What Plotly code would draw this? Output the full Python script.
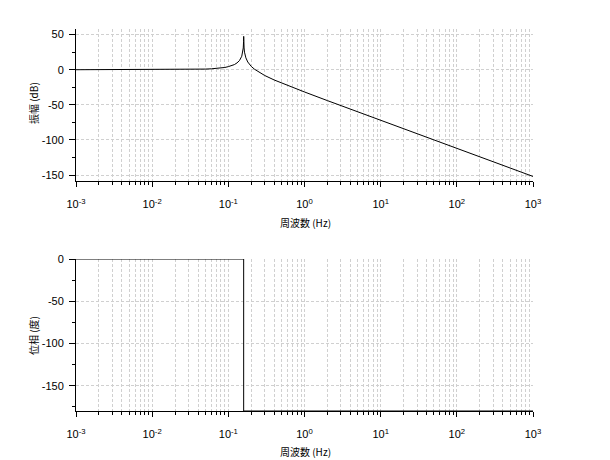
import plotly.graph_objects as go

# Magnitude (dB)
freq_mag = [0.001, 0.01, 0.02, 0.03, 0.04, 0.05, 0.06, 0.07, 0.08, 0.09, 0.1, 0.11, 0.12,
            0.13, 0.14, 0.15, 0.155, 0.157, 0.1585, 0.1591, 0.1597, 0.161, 0.163, 0.166,
            0.17, 0.18, 0.2, 0.22, 0.25, 0.3, 0.4, 0.5, 0.7, 1, 2, 5, 10, 100, 1000]
mag_db = [0, 0, 0.05, 0.3, 0.55, 0.9, 1.3, 1.8, 2.4, 3.2, 4.4, 5.6, 7.3,
          9.7, 13.0, 19.2, 25.5, 31, 40, 47.5, 40, 31, 25, 19,
          16.9, 11.0, 4.7, 0.8, -3.4, -8.2, -14.6, -19, -25.7, -31.7, -44, -60, -72, -112, -152]

# Phase (degrees)
freq_phase = [0.001, 0.159, 0.159, 1000]
phase_deg = [0, 0, -180, -180]

x_tickvals = [1e-3, 1e-2, 1e-1, 1, 10, 100, 1000]
x_ticktext = ["10<sup>-3</sup>", "10<sup>-2</sup>", "10<sup>-1</sup>", "10<sup>0</sup>",
              "10<sup>1</sup>", "10<sup>2</sup>", "10<sup>3</sup>"]
mag_ticks = [50, 0, -50, -100, -150]
mag_ticktext = ["50", "0", "-50", "-100", "-150"]
phase_ticks = [0, -50, -100, -150]
phase_ticktext = ["0", "-50", "-100", "-150"]

W, H = 610, 460
OFF = 8  # page body margin offset


def px(v):
    return (v - OFF) / W


def py(v):
    return 1 - (v - OFF) / H


xl, xr = px(76), px(533)
top_dom = [py(181), py(29)]
bot_dom = [py(411), py(259)]

fig = go.Figure()
fig.add_trace(go.Scatter(x=freq_mag, y=mag_db, mode="lines",
                         line=dict(color="black", width=1), xaxis="x", yaxis="y",
                         showlegend=False))
fig.add_trace(go.Scatter(x=freq_phase, y=phase_deg, mode="lines",
                         line=dict(color="black", width=1), xaxis="x2", yaxis="y2",
                         showlegend=False))

tick_font = dict(family="Liberation Sans, Arial, sans-serif", size=11, color="black")
grid_color = "#d0d0d0"

xcommon = dict(type="log", range=[-3, 3], tickvals=x_tickvals, ticktext=x_ticktext,
               showline=True, linecolor="black", linewidth=1, mirror=False,
               ticks="outside", ticklen=5, tickcolor="black", tickfont=tick_font,
               showgrid=True, gridcolor=grid_color, griddash="3px,2px", gridwidth=1,
               zeroline=False, ticklabelstandoff=8, automargin=False,
               minor=dict(ticks="outside", ticklen=3, tickcolor="black",
                          showgrid=True, gridcolor=grid_color, griddash="3px,2px",
                          dtick="D1"),
               domain=[xl, xr])
ycommon = dict(showline=True, linecolor="black", linewidth=1, ticks="outside",
               ticklen=6, tickcolor="black", tickfont=tick_font,
               showgrid=True, gridcolor=grid_color, griddash="3px,2px", zeroline=False,
               ticklabelstandoff=3, automargin=False,
               minor=dict(ticks="outside", ticklen=3, tickcolor="black", dtick=25,
                          showgrid=False))

fig.update_layout(
    width=W, height=H, margin=dict(l=0, r=0, t=0, b=0, autoexpand=False),
    paper_bgcolor="white", plot_bgcolor="white",
    xaxis=dict(**xcommon, anchor="y"),
    yaxis=dict(**ycommon, range=[-158.5, 58], tickvals=mag_ticks, ticktext=mag_ticktext,
               domain=top_dom, anchor="x"),
    xaxis2=dict(**xcommon, anchor="y2"),
    yaxis2=dict(**ycommon, range=[-180, 0], tickvals=phase_ticks, ticktext=phase_ticktext,
                domain=bot_dom, anchor="x2"),
)

title_font = dict(family="Noto Sans CJK JP, Liberation Sans, sans-serif", size=10,
                  color="black")
ann = dict(xref="paper", yref="paper", showarrow=False, font=title_font,
           xanchor="center", yanchor="middle")
fig.add_annotation(text="周波数 (Hz)", x=px(305), y=py(222), **ann)
fig.add_annotation(text="周波数 (Hz)", x=px(305), y=py(451), **ann)
fig.add_annotation(text="振幅 (dB)", x=px(33), y=py(103), textangle=-90, **ann)
fig.add_annotation(text="位相 (度)", x=px(33), y=py(335), textangle=-90, **ann)

fig.write_html("out.html")
